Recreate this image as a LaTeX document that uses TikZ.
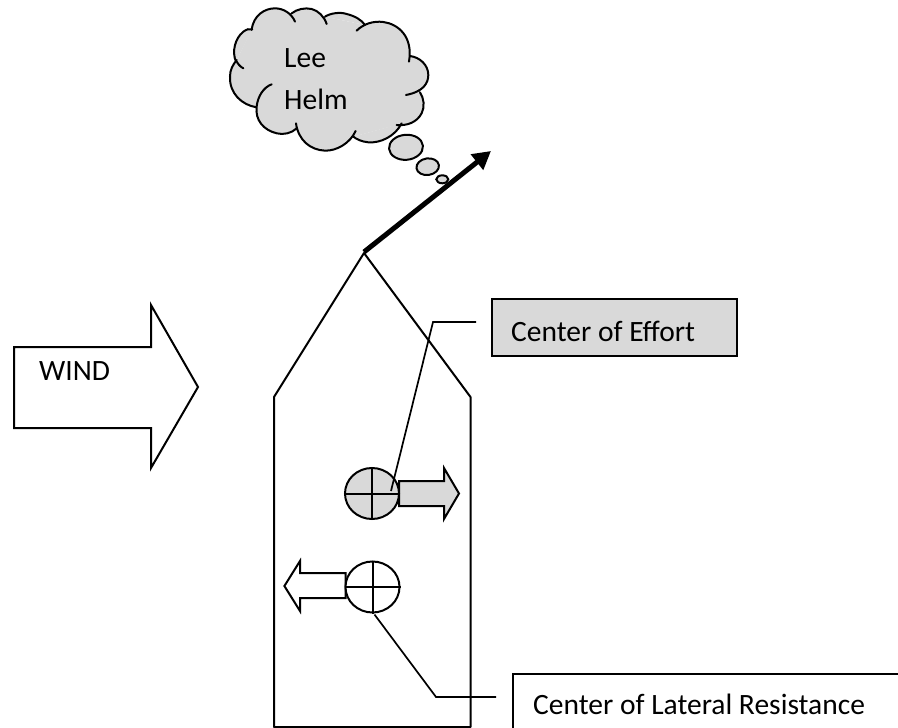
\documentclass[tikz,border=0pt]{standalone}
\usepackage{fontspec}
\setmainfont{Carlito}
\usetikzlibrary{shapes.geometric,arrows.meta}
\definecolor{cloudgray}{HTML}{D9D9D9}
\tikzset{
  ln/.style={draw=black,line width=2pt,line join=miter},
  lbl/.style={anchor=base west,inner sep=0pt,font=\fontsize{29.5}{34}\selectfont,text=black},
  disc/.style={ellipse,draw=black,line width=2pt,minimum width=54pt,minimum height=51pt,inner sep=0pt},
  bubble/.style={ln,fill=cloudgray},
  lead/.style={draw=black,line width=1.7pt},
}
\def\cloudlobes{
  (185,90) .. controls (190,45) and (225,25) .. (255,25) .. controls (280,25) and (305,40) .. (315,65)
  (305,40) .. controls (320,28) and (345,22) .. (365,27) .. controls (385,32) and (403,50) .. (410,72)
  (405,50) .. controls (420,40) and (450,35) .. (470,42) .. controls (495,48) and (515,60) .. (525,75)
  (500,92) .. controls (520,72) and (550,62) .. (580,66) .. controls (625,72) and (670,110) .. (657,185)
  (660,168) .. controls (690,172) and (715,195) .. (715,225) .. controls (715,250) and (700,275) .. (648,285)
  (690,277) .. controls (702,295) and (705,320) .. (695,340) .. controls (680,368) and (650,378) .. (620,375)
  (635,370) .. controls (615,410) and (570,430) .. (535,427) .. controls (515,425) and (500,418) .. (490,410)
  (497,393) .. controls (480,430) and (440,453) .. (405,452) .. controls (360,450) and (325,420) .. (318,370)
  (320,385) .. controls (305,400) and (280,405) .. (260,400) .. controls (220,390) and (195,360) .. (200,320) .. controls (203,290) and (220,262) .. (245,253)
  (200,322) .. controls (155,315) and (118,280) .. (120,230) .. controls (120,210) and (128,195) .. (140,180)
  (138,180) .. controls (142,190) and (150,200) .. (160,205)
  (138,185) .. controls (125,155) and (135,115) .. (160,95) .. controls (170,88) and (178,85) .. (187,88)
}
\begin{document}
\begin{tikzpicture}[x=1pt,y=-1pt]
\useasboundingbox (0,0) rectangle (898,728);
\clip (0,0) rectangle (898,728);
% hull
\draw[ln,line join=round] (274,727) -- (274,397) -- (364,253) -- (470.5,397) -- (470.5,727) -- cycle;
% wind arrow
\draw[ln,fill=white] (14,347) -- (151,347) -- (151,305) -- (198,387) -- (151,468) -- (151,428) -- (14,428) -- cycle;
\node[lbl] (wind) at (39,380) {WIND};
% cloud
\begin{scope}[shift={(190,0)},x=0.3333pt,y=-0.3333pt]
  \fill[cloudgray] \cloudlobes;
  \fill[cloudgray] (185,90) -- (305,40) -- (405,50) -- (525,75) -- (657,185) -- (715,225) -- (690,277) -- (695,340) -- (620,375) -- (490,410) -- (318,385) -- (260,400) -- (200,320) -- (120,230) -- (138,185) -- cycle;
  \draw[line width=2pt,black,line cap=round] \cloudlobes;
\end{scope}
\node[lbl] (lee) at (284,67) {Lee};
\node[lbl] (helm) at (284,109) {Helm};
% thought bubbles
\draw[bubble,rotate around={5:(406,147.3)}] (406,147.3) ellipse [x radius=17,y radius=12.5];
\draw[bubble,rotate around={8:(427.7,166.7)}] (427.7,166.7) ellipse [x radius=11.3,y radius=8.3];
\draw[bubble] (442.3,179.3) ellipse [x radius=6,y radius=4];
% heading arrow
\coordinate (apex) at (364,252);
\coordinate (head) at (491,151);
\draw[line width=5pt,-{Triangle[length=18pt,width=19pt]}] (apex) -- (head);
% centre of effort
\node[draw=black,line width=2pt,fill=cloudgray,minimum width=245pt,minimum height=57pt,inner sep=0pt,anchor=north west] (ceb) at (491,298) {};
\node[lbl] (cet) at (511,341) {Center of Effort};
\draw[ln,fill=cloudgray] (399,481) -- (444,481) -- (444,468) -- (459,493.5) -- (444,519) -- (444,506) -- (399,506) -- cycle;
\node[disc,fill=cloudgray] (ce) at (372,493.5) {};
\draw[ln] (ce.west) -- (ce.east) (ce.north) -- (ce.south);
\coordinate (ceknee) at (433,322);
\coordinate (ceend) at (476,322);
\draw[lead] (391,491) -- (ceknee) -- (ceend);
% centre of lateral resistance
\draw[ln,fill=white] (345.5,573) -- (300,573) -- (300,561) -- (284.4,586) -- (300,611) -- (300,598) -- (345.5,598) -- cycle;
\node[disc,fill=white] (clr) at (372.5,587) {};
\draw[ln] (clr.west) -- (clr.east) (clr.north) -- (clr.south);
\node[draw=black,line width=2pt,minimum width=420pt,minimum height=100pt,inner sep=0pt,anchor=north west] (clb) at (512,673) {};
\node[lbl] (clt) at (533,714) {Center of Lateral Resistance};
\coordinate (clknee) at (436,697);
\coordinate (clend) at (496,697);
\draw[lead] (clr.south) ++(2,1) -- (clknee) -- (clend);
\end{tikzpicture}
\end{document}
